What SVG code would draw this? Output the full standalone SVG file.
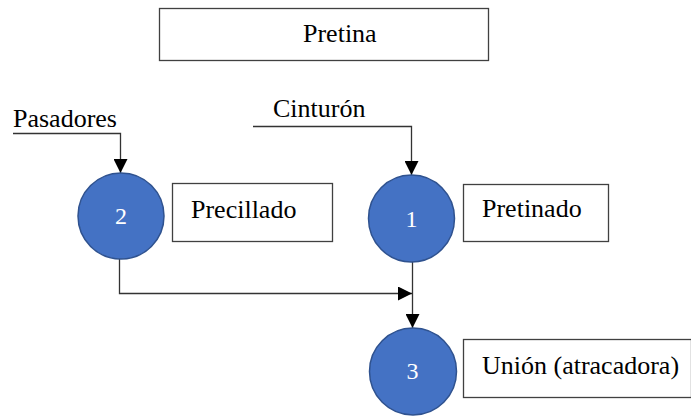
<svg xmlns="http://www.w3.org/2000/svg" width="691" height="416" viewBox="0 0 691 416">
  <style>
    .box { fill: #ffffff; stroke: #404040; stroke-width: 1.3; }
    .step { fill: #4472C4; stroke: #2F528F; stroke-width: 1.5; }
    .label { font-family: "Liberation Serif", "Times New Roman", serif; font-size: 26px; fill: #000000; }
    .num { font-family: "Liberation Serif", "Times New Roman", serif; font-size: 24px; fill: #ffffff; text-anchor: middle; }
    .wire { fill: none; stroke: #333333; stroke-width: 1.3; }
  </style>
  <defs>
    <marker id="tip" viewBox="0 0 14 14" refX="14" refY="7" markerWidth="14" markerHeight="14" markerUnits="userSpaceOnUse" orient="auto">
      <path d="M0,0 L14,7 L0,14 Z" fill="#000000"/>
    </marker>
  </defs>

  <rect width="691" height="416" fill="#ffffff"/>

  <!-- title -->
  <g id="title">
    <rect class="box" x="159.5" y="8.5" width="329" height="52"/>
    <text class="label" x="303" y="42">Pretina</text>
  </g>

  <!-- flows and inputs -->
  <g id="connectors">
    <path class="wire" d="M13,133.5 H120.5 V173" marker-end="url(#tip)"/>
    <path class="wire" d="M253,126.5 H411.5 V175" marker-end="url(#tip)"/>
    <path class="wire" d="M119.5,259 V293.5 H412" marker-end="url(#tip)"/>
    <path class="wire" d="M412.5,262 V328" marker-end="url(#tip)"/>
  </g>

  <g id="label-pasadores">
    <text class="label" x="13" y="127">Pasadores</text>
  </g>
  <g id="label-cinturon">
    <text class="label" x="273" y="117">Cinturón</text>
  </g>

  <!-- operation 2 -->
  <g id="op2">
    <ellipse class="step" cx="121" cy="216" rx="43" ry="43"/>
    <text class="num" x="121" y="224">2</text>
  </g>
  <g id="op2-name">
    <rect class="box" x="172.5" y="183.5" width="160" height="58"/>
    <text class="label" x="191" y="218">Precillado</text>
  </g>

  <!-- operation 1 -->
  <g id="op1">
    <ellipse class="step" cx="411.5" cy="218.5" rx="43" ry="43.5"/>
    <text class="num" x="411.5" y="227">1</text>
  </g>
  <g id="op1-name">
    <rect class="box" x="463.5" y="184.5" width="145" height="57"/>
    <text class="label" x="482" y="217">Pretinado</text>
  </g>

  <!-- operation 3 -->
  <g id="op3">
    <ellipse class="step" cx="413" cy="371.5" rx="43.5" ry="43.5"/>
    <text class="num" x="412.5" y="379">3</text>
  </g>
  <g id="op3-name">
    <rect class="box" x="463.5" y="339.5" width="228" height="58"/>
    <text class="label" x="482" y="374">Unión (atracadora)</text>
  </g>
</svg>
